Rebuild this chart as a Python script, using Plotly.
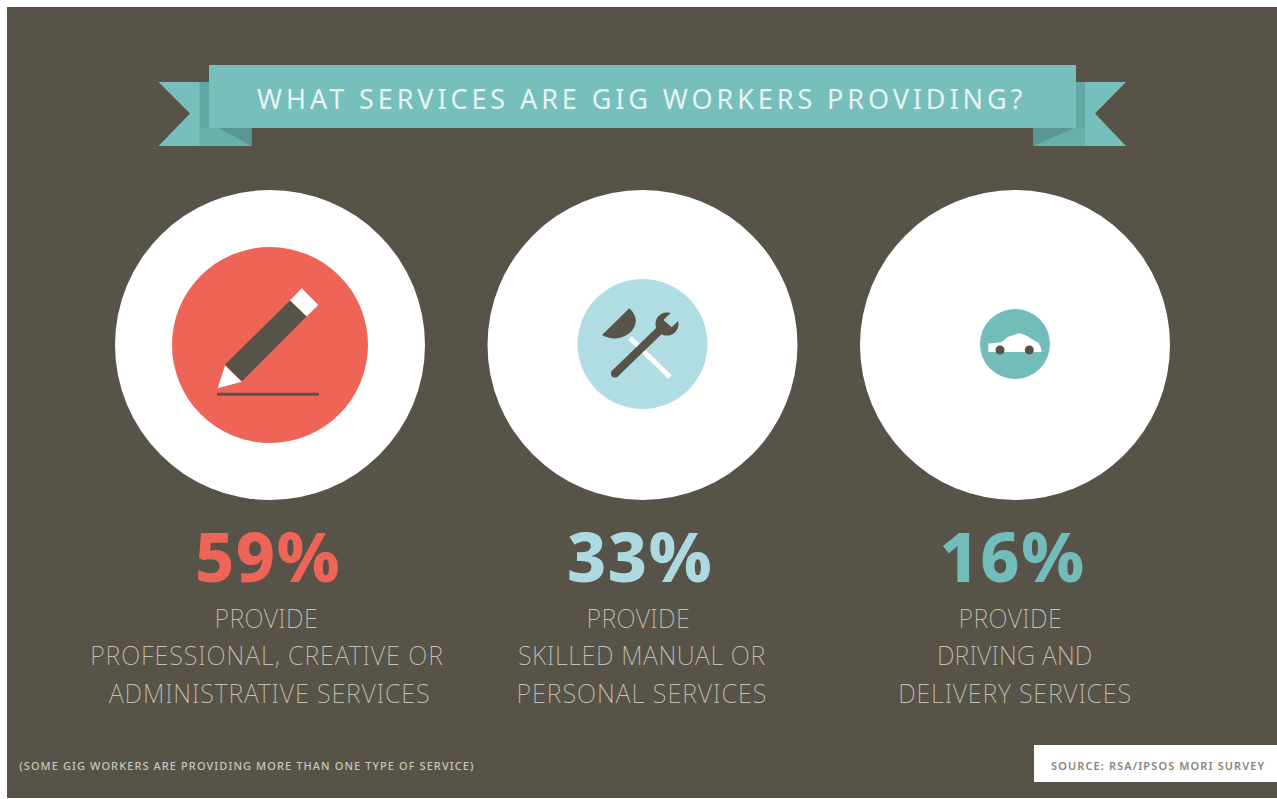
import json
import plotly.graph_objects as go

# values
percents = [59, 33, 16]
percent_labels = ["59%", "33%", "16%"]
percent_colors = ["#EE6557", "#ADDAE0", "#72BDBA"]
circle_x = [270, 642.5, 1015]
inner_diameters = [196, 130, 70]
inner_colors = ["#EE6557", "#B0DDE4", "#72BDBA"]
percent_x = [268, 640, 1012.5]
lead_x = [266, 638, 1010.5]
one_x = [266.5, 641.5, 1014.5]
two_x = [269.5, 642, 1014.5]
lead_word = ["PROVIDE", "PROVIDE", "PROVIDE"]
line_one = ["PROFESSIONAL, CREATIVE OR", "SKILLED MANUAL OR", "DRIVING AND"]
line_two = ["ADMINISTRATIVE SERVICES", "PERSONAL SERVICES", "DELIVERY SERVICES"]
title_text = "WHAT SERVICES ARE GIG WORKERS PROVIDING?"
note_text = "(SOME GIG WORKERS ARE PROVIDING MORE THAN ONE TYPE OF SERVICE)"
source_text = "SOURCE: RSA/IPSOS MORI SURVEY"

BG = "#575349"
TEAL = "#76BFBC"
BODY = "#C2BFB4"
BODY_FONT = "Noto Sans"

fig = go.Figure()

# big white discs, then the discs sized by share
fig.add_trace(go.Scatter(x=circle_x, y=[345] * 3, mode="markers", hoverinfo="skip",
                         marker=dict(size=310, color="white", opacity=1, line_width=0)))
fig.add_trace(go.Scatter(x=circle_x, y=[345, 344, 344], mode="markers", hoverinfo="skip",
                         customdata=percents,
                         marker=dict(size=inner_diameters, color=inner_colors, opacity=1, line_width=0)))
fig.add_trace(go.Scatter(x=percent_x, y=[565] * 3, mode="text", hoverinfo="skip",
                         text=percent_labels,
                         textfont=dict(family=BODY_FONT, size=68, weight=800, color=percent_colors)))


def poly(path, color, line=None, width=0, layer="above"):
    fig.add_shape(type="path", path=path, fillcolor=color, layer=layer,
                  line=dict(color=line or color, width=width))


def seg(x0, y0, x1, y1, color, width):
    fig.add_shape(type="line", x0=x0, y0=y0, x1=x1, y1=y1, layer="above",
                  line=dict(color=color, width=width))


def disc(cx, cy, r, color):
    fig.add_shape(type="circle", x0=cx - r, y0=cy - r, x1=cx + r, y1=cy + r,
                  fillcolor=color, line_width=0, layer="above")


# page background
fig.add_shape(type="rect", x0=7, y0=7, x1=1277, y1=798, fillcolor=BG, line_width=0, layer="below")

# ribbon
poly("M158.5,82 L200,82 L200,146 L158.5,146 L190,113.5 Z", TEAL)
poly("M199.5,82 L209,82 L209,128 L199.5,128 Z", "#62A8A5")
poly("M199.5,128 L251.5,128 L251.5,146 L199.5,146 Z", "#69B0AD")
poly("M219,128 L251.5,128 L251.5,146 Z", "#5A9794")
poly("M1126,82 L1085,82 L1085,146 L1126,146 L1095,113.5 Z", TEAL)
poly("M1085,82 L1076,82 L1076,128 L1085,128 Z", "#62A8A5")
poly("M1085,128 L1033.5,128 L1033.5,146 L1085,146 Z", "#69B0AD")
poly("M1074,128 L1033.5,128 L1033.5,146 Z", "#5A9794")
fig.add_shape(type="rect", x0=209, y0=65, x1=1076, y1=128, fillcolor=TEAL, line_width=0, layer="above")

# pencil
poly("M301.7,288.3 L318.3,305 L306.5,316.5 L290,300.5 Z", "white")
poly("M290,300.5 L306.5,316.5 L241.7,381.5 L225,364.5 Z", BG)
poly("M225,365.5 L241.7,381.7 L217.7,388.3 Z", "white")
seg(217, 394.3, 319, 394.3, BG, 3)

# plunger and wrench
seg(630, 338, 670, 377, "white", 5)
poly("M602,335 C622,347 648,325 629.3,308.3 Z", BG)
seg(615, 373.5, 660, 330, BG, 8)
disc(615, 373.5, 4, BG)
disc(667, 324, 11.5, BG)
poly("M663.5,320 L669.3,314.3 L676.5,307.4 L684.5,314.8 L677.3,321.7 L671.5,327.2 Z", "#B0DDE4")

# car
poly("M988.3,352 L988.3,343.5 C994,343 998,343 1001.7,341.7 C1005,340 1007,337 1010,336 "
     "C1013,335 1016,334.5 1018.3,333.3 C1022,334 1025,335 1028.3,336.7 "
     "C1032,339 1035,341 1038.3,342.7 C1040,345 1041,347 1041.7,352 Z", "white")
disc(1000, 350, 4.5, BG)
disc(1029.3, 350, 4.5, BG)

# source box
fig.add_shape(type="rect", x0=1034, y0=745, x1=1277, y1=782, fillcolor="white", line_width=0, layer="above")


def label(x, y, text, size, color, weight=300):
    fig.add_annotation(x=x, y=y, text=text, showarrow=False, xanchor="center", yanchor="middle",
                       font=dict(family=BODY_FONT, size=size, color=color, weight=weight))


label(641, 98, title_text, 27, "#E6F3F1", 400)
for i in range(3):
    label(lead_x[i], 618, lead_word[i], 25, BODY, 200)
    label(one_x[i], 655, line_one[i], 25, BODY, 200)
    label(two_x[i], 693, line_two[i], 25, BODY, 200)
label(246.5, 765, note_text, 11, "#C9C6BC", 500)
label(1158.5, 765, source_text, 11, "#8A857C", 600)

fig.update_layout(width=1277, height=799, margin=dict(l=0, r=0, t=0, b=0), showlegend=False,
                  paper_bgcolor="white", plot_bgcolor="white",
                  xaxis=dict(range=[0, 1277], visible=False, fixedrange=True),
                  yaxis=dict(range=[799, 0], visible=False, fixedrange=True))

# plotly has no letter spacing option, so it is set on the drawn text
spacing = {title_text: 3.9, note_text: 1.09, source_text: 1.1,
           "PROVIDE": 0.4,
           "PROFESSIONAL, CREATIVE OR": 0.95, "SKILLED MANUAL OR": 0.6, "DRIVING AND": 0.2,
           "ADMINISTRATIVE SERVICES": 0.87, "PERSONAL SERVICES": 1.0, "DELIVERY SERVICES": 0.8}
for row in percent_labels:
    spacing[row] = 1.5
post = ("document.body.style.margin='0';var s=" + json.dumps(spacing) + ";"
        "document.querySelectorAll('svg text').forEach(function(t){"
        "var k=t.textContent;if(k in s){t.style.letterSpacing=s[k]+'px';}});")

fig.write_html("out.html", post_script=post, config={"displayModeBar": False})
